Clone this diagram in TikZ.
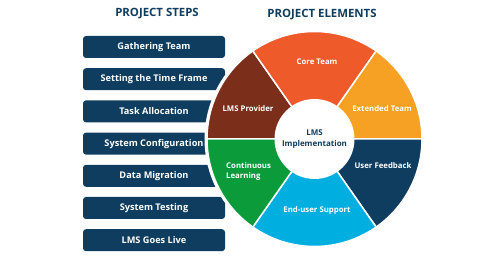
\documentclass[tikz,border=0pt]{standalone}
\usepackage{fontspec}
\setmainfont{Open Sans}
\definecolor{stepnavy}{HTML}{0E3D60}
\definecolor{lmsbrown}{HTML}{7B2E1A}
\definecolor{coreorange}{HTML}{EF5A2A}
\definecolor{extorange}{HTML}{F6A123}
\definecolor{learngreen}{HTML}{0B9B3B}
\definecolor{supportblue}{HTML}{00AFE0}
\usepackage{tikz}
\usetikzlibrary{positioning}

\begin{document}
\begin{tikzpicture}[x=1pt, y=1pt,
    stepbox/.style={fill=stepnavy, rounded corners=3pt, minimum width=142pt,
      minimum height=22pt, text=white, font=\bfseries\fontsize{9.2}{11}\selectfont},
    seglabel/.style={text=white, align=center, font=\bfseries\fontsize{7.8}{10}\selectfont},
    headline/.style={text=stepnavy, font=\bfseries\fontsize{11.4}{13}\selectfont}]
    \useasboundingbox (0,0) rectangle (500,280);
    \node[headline] (stepstitle) at (157,266) {PROJECT STEPS};
    \node[headline] (elemtitle)  at (322,265) {PROJECT ELEMENTS};
    \foreach \n/\ypos/\lab in {%
      1/233/{Gathering Team},
      2/200.8/{Setting the Time Frame},
      3/168.6/{Task Allocation},
      4/136.4/{System Configuration},
      5/104.2/{Data Migration},
      6/72/{System Testing},
      7/39.8/{LMS Goes Live}}{%
      \node[stepbox] (step\n) at (154,\ypos) {\lab};
    }
    % pie of project elements
    \coordinate (hub) at (314.5,141);
    \fill[white] (hub) circle (110);
    \foreach \a/\b/\col in {%
      125/180/lmsbrown,
      55/125/coreorange,
      0/55/extorange,
      -55/0/stepnavy,
      -125/-55/supportblue,
      -180/-125/learngreen}{%
      \filldraw[fill=\col, draw=white, line width=1.5pt, line join=round]
        (hub) -- ++(\a:107.5) arc[start angle=\a, end angle=\b, radius=107.5] -- cycle;
    }
    \node[circle, fill=white, minimum size=80pt, text=stepnavy, align=center,
      font=\bfseries\fontsize{8}{11}\selectfont] (hubtext) at (hub) {LMS\\Implementation};
    \node[seglabel] (provider) at (248,171) {LMS Provider};
    \node[seglabel] (core)     at (317,218) {Core Team};
    \node[seglabel] (extended) at (382,171) {Extended Team};
    \node[seglabel] (feedback) at (383,114) {User Feedback};
    \node[seglabel] (support)  at (317,70)  {End-user Support};
    \node[seglabel, align=left, anchor=west, inner sep=0pt] (learning) at (226,109) {Continuous\\Learning};
\end{tikzpicture}
\end{document}
